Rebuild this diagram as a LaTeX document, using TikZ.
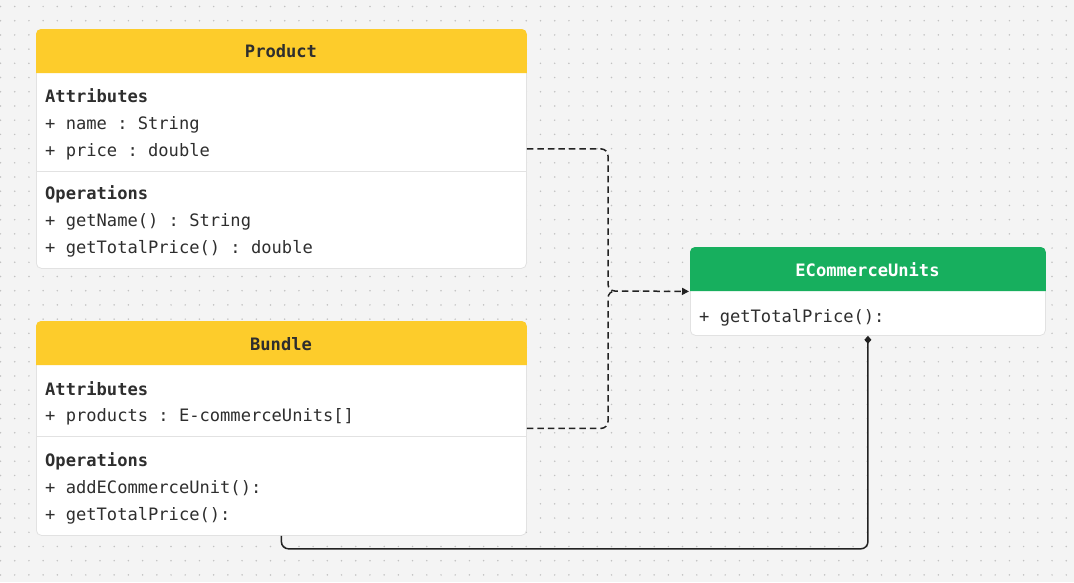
\documentclass[tikz,border=0pt]{standalone}
\usepackage{fontspec}
\setmonofont{DejaVu Sans Mono}
\usetikzlibrary{arrows.meta}
\definecolor{bgc}{HTML}{F4F4F4}
\definecolor{dotc}{HTML}{C2C2C2}
\definecolor{ycol}{HTML}{FDCC2B}
\definecolor{gcol}{HTML}{17AF5E}
\definecolor{bordc}{HTML}{E2E2E2}
\definecolor{txtc}{HTML}{2E2E2E}
\definecolor{linec}{HTML}{222222}
\tikzset{
  cls/.style={draw=bordc, fill=white, line width=0.8pt, rounded corners=5pt, inner sep=0pt},
  ttl/.style={font=\ttfamily\bfseries\fontsize{17.1}{20}\selectfont, text=txtc, inner sep=0pt, text height=12pt, text depth=4pt},
  lbl/.style={font=\ttfamily\fontsize{17.1}{20}\selectfont, text=txtc, anchor=west, inner sep=0pt, text height=12pt, text depth=4pt},
  sec/.style={font=\ttfamily\bfseries\fontsize{17.1}{20}\selectfont, text=txtc, anchor=west, inner sep=0pt, text height=12pt, text depth=4pt},
  divl/.style={draw=bordc, line width=0.8pt},
  dep/.style={draw=linec, line width=1.5pt, dash pattern=on 6.5pt off 4pt, rounded corners=7pt},
  comp/.style={draw=linec, line width=1.5pt, rounded corners=7pt},
}
\begin{document}
\begin{tikzpicture}[x=1pt,y=-1pt]
\fill[bgc] (0,0) rectangle (1074,582);
\useasboundingbox (0,0) rectangle (1074,582);
\foreach \i in {0,...,75}{
  \foreach \j in {0,...,40}{
    \fill[dotc] (0.5+14.21*\i, 6.5+14.21*\j) circle (0.85pt);
  }
}
% Product
\node[cls, minimum width=490pt, minimum height=239pt, anchor=north west] (product) at (36,29) {};
\fill[ycol] ([yshift=-44pt]product.north west) [rounded corners=5pt] -- (product.north west) -- (product.north east) [sharp corners] -- ([yshift=-44pt]product.north east) -- cycle;
\node[ttl] (productT) at (281,53) {Product};
\node[sec] (productA) at (45,98) {Attributes};
\node[lbl] (productA1) at (45,125) {+ name : String};
\node[lbl] (productA2) at (45,152) {+ price : double};
\draw[divl] (36,171) -- (526,171);
\node[sec] (productO) at (45,195) {Operations};
\node[lbl] (productO1) at (45,222) {+ getName() : String};
\node[lbl] (productO2) at (45,249) {+ getTotalPrice() : double};
% Bundle
\node[cls, minimum width=490pt, minimum height=214pt, anchor=north west] (bundle) at (36,321) {};
\fill[ycol] ([yshift=-44pt]bundle.north west) [rounded corners=5pt] -- (bundle.north west) -- (bundle.north east) [sharp corners] -- ([yshift=-44pt]bundle.north east) -- cycle;
\node[ttl] (bundleT) at (281,346) {Bundle};
\node[sec] (bundleA) at (45,391) {Attributes};
\node[lbl] (bundleA1) at (45,417) {+ products : E-commerceUnits[]};
\draw[divl] (36,436) -- (526,436);
\node[sec] (bundleO) at (45,462) {Operations};
\node[lbl] (bundleO1) at (45,489) {+ addECommerceUnit():};
\node[lbl] (bundleO2) at (45,516) {+ getTotalPrice():};
% ECommerceUnits
\node[cls, minimum width=355pt, minimum height=88pt, anchor=north west] (ecu) at (690,247) {};
\fill[gcol] ([yshift=-44pt]ecu.north west) [rounded corners=5pt] -- (ecu.north west) -- (ecu.north east) [sharp corners] -- ([yshift=-44pt]ecu.north east) -- cycle;
\node[ttl, text=white] (ecuT) at (867.5,272) {ECommerceUnits};
\node[lbl] (ecuO1) at (699,318) {+ getTotalPrice():};
% connectors
\coordinate (junc) at (608,291);
\draw[dep] (bundle.east) -| (junc) -- ++(7,0);
\draw[dep, -{Triangle[length=7pt,width=7pt]}] (product.east) -| (junc) -- ([xshift=-1pt]ecu.west);
\draw[comp, -{Diamond[length=8pt,width=7pt]}] (bundle.south) -- ++(0,13) -| (ecu.south);
\end{tikzpicture}
\end{document}
